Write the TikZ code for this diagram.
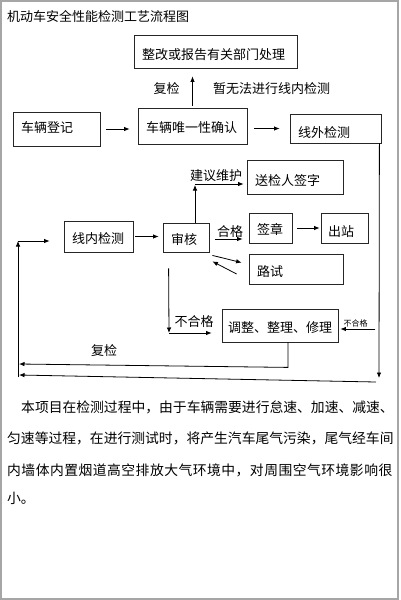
\documentclass[tikz,border=0pt]{standalone}
\usepackage{fontspec}
\newfontfamily\cjk{Noto Sans CJK SC}
\usetikzlibrary{arrows.meta,calc}
\begin{document}
\begin{tikzpicture}[x=1pt,y=-1pt,
  every node/.style={font=\cjk\fontsize{13pt}{15pt}\selectfont, inner sep=0pt},
  box/.style={draw=black!85, line width=0.8pt, rectangle, inner xsep=8pt, inner ysep=0pt,
              text height=14.8pt, text depth=0pt, align=left},
  arr/.style={draw=black, line width=0.8pt, -{Latex[length=5.5pt,width=4.5pt]}},
  para/.style={font=\cjk\fontsize{13.8pt}{16pt}\selectfont, anchor=west},
]
\useasboundingbox (0,0) rectangle (400,600);
\draw[black!35, line width=2pt] (1,1) rectangle (398,598.5);

% title
\node[anchor=west] (title) at (7,16) {机动车安全性能检测工艺流程图};

% boxes
\node[box, minimum width=163pt, minimum height=33pt, text width=147pt, text height=16.8pt] (zg) at (215.5,51.5) {整改或报告有关部门处理};
\node[box, minimum width=87pt, minimum height=34pt, text width=71pt, text height=7.8pt] (reg) at (56.5,129) {车辆登记};
\node[box, minimum width=109pt, minimum height=36pt, text width=93pt, text height=13.8pt] (uni) at (192.5,126) {车辆唯一性确认};
\node[box, minimum width=91pt, minimum height=29pt, text width=75pt, text height=18.8pt] (off) at (335.5,128.5) {线外检测};
\node[box, minimum width=96pt, minimum height=34pt, text width=80pt, text height=17.8pt] (sign) at (295,177) {送检人签字};
\node[box, minimum width=69pt, minimum height=31pt, text width=53pt] (in) at (98.5,236.5) {线内检测};
\node[box, minimum width=46pt, minimum height=29pt, text width=30pt] (audit) at (186,237.5) {审核};
\node[box, minimum width=43pt, minimum height=30pt, text width=27pt, text height=13.8pt] (seal) at (270.5,228) {签章};
\node[box, minimum width=47pt, minimum height=30pt, text width=33pt, inner xsep=7pt, text height=17.8pt] (out) at (344.5,228) {出站};
\node[box, minimum width=94pt, minimum height=30pt, text width=78pt, text height=15.8pt] (road) at (296,269) {路试};
\node[box, minimum width=116pt, minimum height=33pt, text width=104pt, inner xsep=6pt] (adj) at (280,325.5) {调整、整理、修理};

% labels
\node (fj1) at (166.5,89) {复检};
\node (zwf) at (271.5,89) {暂无法进行线内检测};
\node (jywh) at (216,176) {建议维护};
\node (hg) at (230,232) {合格};
\node (bhg) at (194,322) {不合格};
\node[font=\cjk\fontsize{8pt}{9pt}\selectfont] (bhg2) at (355.5,323) {不合格};
\node (fj2) at (104,351) {复检};

% free coordinates
\coordinate (cR) at (379,378);
\coordinate (cB1) at (376,382);
\coordinate (cB2) at (19,375);
\coordinate (cB3) at (19,364);
\coordinate (cL1) at (18,377);
\coordinate (cL2) at (18,241);
\coordinate (cA) at (195,184);
\coordinate (cN) at (169,333);

% connectors
\draw[arr] ($(reg.east)+(6,0)$) -- ($(uni.west |- reg.east)+(-8,0)$);
\draw[arr] ($(uni.east |- off.west)+(7,0)$) -- ($(off.west)+(-10,0)$);
\draw[arr] ($(uni.north)+(0,-2)$) -- ($(zg.south -| uni.north)+(0,8)$);
\draw[arr] ($(off.south east)+(-2,0)$) -- (cR);
\draw[arr] (cB1) -- (cB2);
\draw[arr] (cL1) -- (cL2);
\draw[arr] (cL2) -- ($(in.west |- cL2)+(-14,0)$);
\draw[arr] ($(adj.south)+(8,0)$) -- ++(0,25) -- (cB3);
\draw[arr] ($(in.east)+(2,0)$) -- ($(audit.west |- in.east)+(-4,0)$);
\draw[arr] ($(audit.north)+(9,0)$) -- ($(cA)+(0,1)$);
\draw[arr] (cA) -- ($(sign.west |- cA)+(-3,0)$);
\draw[arr] ($(audit.east)+(6,1.5)$) -- ($(seal.west |- audit.east)+(-6,1.5)$);
\draw[arr] ($(seal.east)+(5,0)$) -- ($(out.west)+(-1,0)$);
\draw[arr] ($(audit.south east)+(3,3)$) -- ($(road.north west)+(-7,9)$);
\draw[arr] ($(road.west)+(-12,5)$) -- ($(audit.south east)+(3,9)$);
\draw[arr] ($(audit.south west)+(6,16)$) -- (cN);
\draw[arr] (cN) -- ($(adj.west |- cN)+(-10,0)$);
\draw[arr] ($(adj.east)+(37,3.5)$) -- ($(adj.east)+(2,3.5)$);

% paragraph
\node[para] (p1) at (21,407) {本项目在检测过程中，由于车辆需要进行怠速、加速、减速、};
\node[para] (p2) at (7,438) {匀速等过程，在进行测试时，将产生汽车尾气污染，尾气经车间};
\node[para] (p3) at (7,470) {\addfontfeature{LetterSpace=3.5}内墙体内置烟道高空排放大气环境中，对周围空气环境影响很};
\node[para] (p4) at (7,498) {小。};
\end{tikzpicture}
\end{document}
